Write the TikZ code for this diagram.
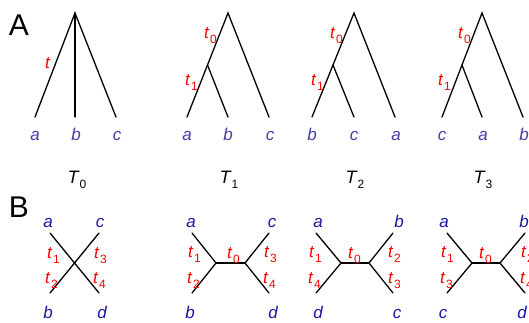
\documentclass[tikz,border=0pt]{standalone}
\usepackage{fontspec}
\setmainfont{Liberation Sans}
\newcommand\tsb[1]{\textit{t}\kern0.03em\raisebox{-0.32em}{\fontsize{12}{12}\selectfont #1}}
\definecolor{leafA}{RGB}{64,64,168}
\definecolor{leafB}{RGB}{24,24,160}
\definecolor{tred}{RGB}{255,0,0}
\begin{document}
\begin{tikzpicture}[x=1pt,y=-1pt,
  br/.style={line width=1.3pt,line cap=round},
  mid/.style={line width=2.6pt},
  lfa/.style={text=leafA,font=\fontsize{17}{17}\selectfont\itshape,inner sep=0pt,anchor=base},
  lfb/.style={text=leafB,font=\fontsize{17}{17}\selectfont\itshape,inner sep=0pt,anchor=base},
  tl/.style={text=tred,font=\fontsize{17}{17}\selectfont,inner sep=0pt,anchor=base west},
  tn/.style={text=black,font=\fontsize{18}{18}\selectfont,inner sep=0pt,anchor=base},
  pl/.style={font=\fontsize{30}{30}\selectfont,inner sep=0pt,anchor=base}]
\useasboundingbox (0,0) rectangle (529,322);
% panel letters
\node[pl] (A) at (19,35) {A};
\node[pl] (B) at (19,217) {B};
% ---------- T0 ----------
\coordinate (r0) at (75,13);
\coordinate (a0) at (35,117);
\coordinate (b0) at (75,117);
\coordinate (c0) at (116,117);
\draw[br] (a0) -- (r0) -- (c0);
\draw[br] (r0) -- (b0);
\node[lfa] (la0) at (35,140) {a};
\node[lfa] (lb0) at (76,140) {b};
\node[lfa] (lc0) at (117,140) {c};
\node[tl] (t0x) at (45,68) {\textit{t}};
\node[tn] (T0) at (77,183) {\textit{T}\raisebox{-0.3em}{\fontsize{12}{12}\selectfont 0}};
% ---------- T1 ----------
\coordinate (r1) at (228,13);
\coordinate (i1) at (207.5,65);
\coordinate (a1) at (187,117);
\coordinate (b1) at (228,117);
\coordinate (c1) at (269,117);
\draw[br] (a1) -- (r1) -- (c1);
\draw[br] (i1) -- (b1);
\node[lfa] (la1) at (187,140) {a};
\node[lfa] (lb1) at (228,140) {b};
\node[lfa] (lc1) at (270,140) {c};
\node[tl] (t1a) at (204,38) {\tsb{0}};
\node[tl] (t1b) at (185,85) {\tsb{1}};
\node[tn] (T1) at (229,183) {\textit{T}\raisebox{-0.3em}{\fontsize{12}{12}\selectfont 1}};
% ---------- T2 ----------
\coordinate (r2) at (354,13);
\coordinate (i2) at (333,65);
\coordinate (a2) at (312,117);
\coordinate (b2) at (354,117);
\coordinate (c2) at (395,117);
\draw[br] (a2) -- (r2) -- (c2);
\draw[br] (i2) -- (b2);
\node[lfa] (la2) at (312,140) {b};
\node[lfa] (lb2) at (354,140) {c};
\node[lfa] (lc2) at (396,140) {a};
\node[tl] (t2a) at (330,38) {\tsb{0}};
\node[tl] (t2b) at (311,85) {\tsb{1}};
\node[tn] (T2) at (355,183) {\textit{T}\raisebox{-0.3em}{\fontsize{12}{12}\selectfont 2}};
% ---------- T3 ----------
\coordinate (r3) at (482,13);
\coordinate (i3) at (462,65);
\coordinate (a3) at (442,117);
\coordinate (b3) at (482,117);
\coordinate (c3) at (523,117);
\draw[br] (a3) -- (r3) -- (c3);
\draw[br] (i3) -- (b3);
\node[lfa] (la3) at (442,140) {c};
\node[lfa] (lb3) at (483,140) {a};
\node[lfa] (lc3) at (524,140) {b};
\node[tl] (t3a) at (458,38) {\tsb{0}};
\node[tl] (t3b) at (438,85) {\tsb{1}};
\node[tn] (T3) at (483,183) {\textit{T}\raisebox{-0.3em}{\fontsize{12}{12}\selectfont 3}};
% ---------- B: star ----------
\coordinate (xa) at (50,233);
\coordinate (xb) at (50,293);
\coordinate (xc) at (99,233);
\coordinate (xd) at (99,293);
\draw[br] (xa) -- (xd);
\draw[br] (xc) -- (xb);
\node[lfb] (lxa) at (48,227) {a};
\node[lfb] (lxc) at (100,227) {c};
\node[lfb] (lxb) at (48,318) {b};
\node[lfb] (lxd) at (102,318) {d};
\node[tl] (tx1) at (47,258) {\tsb{1}};
\node[tl] (tx2) at (45,283) {\tsb{2}};
\node[tl] (tx3) at (94,258) {\tsb{3}};
\node[tl] (tx4) at (93,283) {\tsb{4}};
% ---------- B: tree 2 ----------
\coordinate (ua) at (192,233);
\coordinate (ub) at (192,293);
\coordinate (uL) at (216,263);
\coordinate (uR) at (245,263);
\coordinate (uc) at (269,233);
\coordinate (ud) at (269,293);
\draw[br] (ua) -- (uL) -- (ub);
\draw[br] (uc) -- (uR) -- (ud);
\draw[mid] (uL) -- (uR);
\node[lfb] (lua) at (191,227) {a};
\node[lfb] (lub) at (190,318) {b};
\node[lfb] (luc) at (272,227) {c};
\node[lfb] (lud) at (273,318) {d};
\node[tl] (tu1) at (188,257) {\tsb{1}};
\node[tl] (tu2) at (187,283) {\tsb{2}};
\node[tl] (tu0) at (227,258) {\tsb{0}};
\node[tl] (tu3) at (264,257) {\tsb{3}};
\node[tl] (tu4) at (263,283) {\tsb{4}};
% ---------- B: tree 3 ----------
\coordinate (va) at (316,233);
\coordinate (vd) at (316,293);
\coordinate (vL) at (341,263);
\coordinate (vR) at (369,263);
\coordinate (vb) at (393,233);
\coordinate (vc) at (393,293);
\draw[br] (va) -- (vL) -- (vd);
\draw[br] (vb) -- (vR) -- (vc);
\draw[mid] (vL) -- (vR);
\node[lfb] (lva) at (318,227) {a};
\node[lfb] (lvd) at (318,318) {d};
\node[lfb] (lvb) at (399,227) {b};
\node[lfb] (lvc) at (397,318) {c};
\node[tl] (tv1) at (309,257) {\tsb{1}};
\node[tl] (tv4) at (308,283) {\tsb{4}};
\node[tl] (tv0) at (348,258) {\tsb{0}};
\node[tl] (tv2) at (388,257) {\tsb{2}};
\node[tl] (tv3) at (388,283) {\tsb{3}};
% ---------- B: tree 4 ----------
\coordinate (wa) at (447,233);
\coordinate (wc) at (447,293);
\coordinate (wL) at (472,263);
\coordinate (wR) at (500,263);
\coordinate (wb) at (525,233);
\coordinate (wd) at (525,293);
\draw[br] (wa) -- (wL) -- (wc);
\draw[br] (wb) -- (wR) -- (wd);
\draw[mid] (wL) -- (wR);
\node[lfb] (lwa) at (444,227) {a};
\node[lfb] (lwc) at (443,318) {c};
\node[lfb] (lwb) at (524,227) {b};
\node[lfb] (lwd) at (522,318) {d};
\node[tl] (tw1) at (441,257) {\tsb{1}};
\node[tl] (tw3) at (440,283) {\tsb{3}};
\node[tl] (tw0) at (479,258) {\tsb{0}};
\node[tl] (tw2) at (521,257) {\tsb{2}};
\node[tl] (tw4) at (520,283) {\tsb{4}};
\end{tikzpicture}
\end{document}
